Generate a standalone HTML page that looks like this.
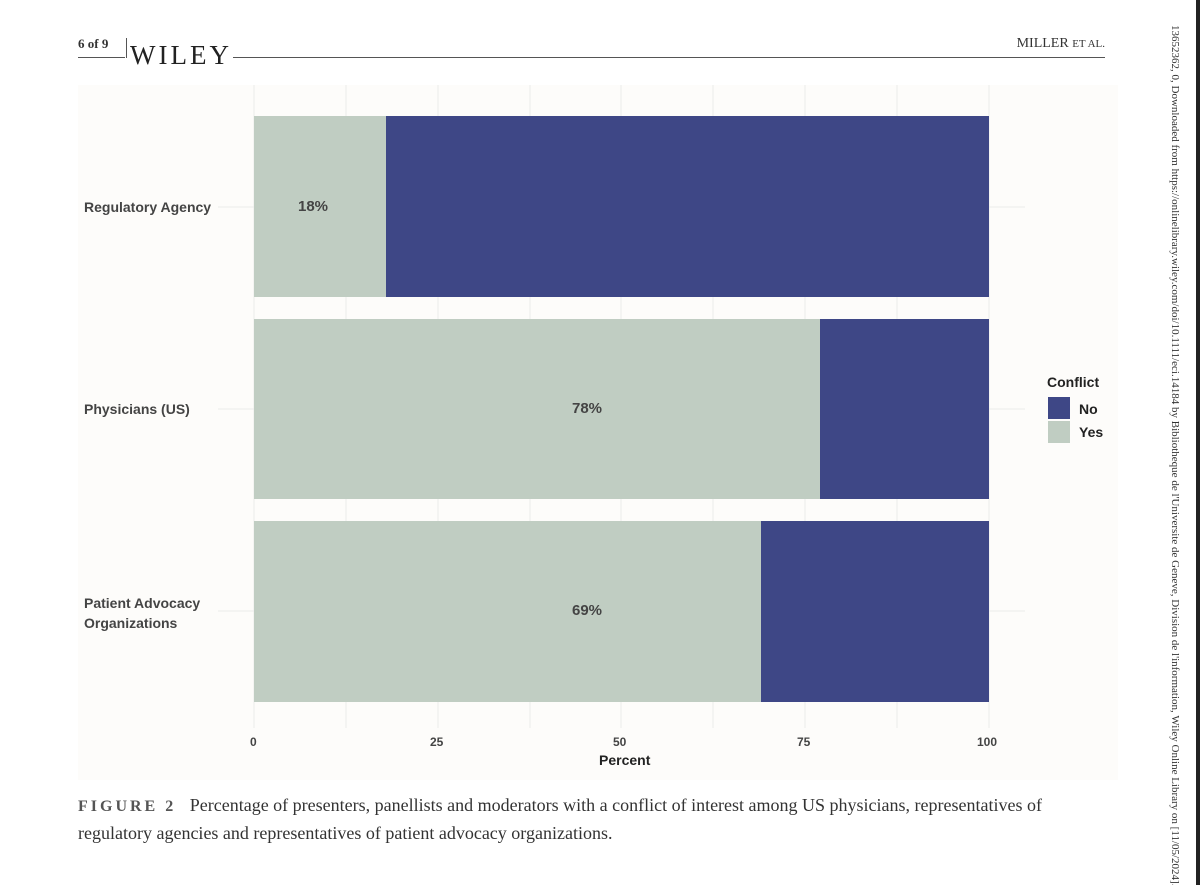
<!DOCTYPE html>
<html><head><style>
body{margin:0;background:#fff;}
#p{position:relative;width:1200px;height:885px;overflow:hidden;background:#fff;font-family:"Liberation Sans",sans-serif;}
.a{position:absolute;}
.s{font-family:"Liberation Serif",serif;color:#333;}
.lab{font-weight:bold;font-size:14px;color:#444;}
</style></head><body><div id="p">
<div class="a s" style="left:78px;top:36px;font-size:13px;font-weight:bold;">6 of 9</div>
<div class="a" style="left:78px;top:57px;width:47px;height:1px;background:#555"></div>
<div class="a" style="left:126px;top:38px;width:1px;height:20px;background:#555"></div>
<div class="a s" style="left:130px;top:40px;font-size:27px;letter-spacing:3px;color:#222">WILEY</div>
<div class="a" style="left:233px;top:57px;width:872px;height:1px;background:#555"></div>
<div class="a s" style="right:95px;top:36px;font-size:14px;">MILLER <span style="font-size:11px">ET AL.</span></div>
<div class="a" style="left:78px;top:85px;width:1040px;height:695px;background:#fdfcfa"></div>
<svg class="a" style="left:0;top:0" width="1200" height="885">
<g stroke="#ebebeb" stroke-width="1">
<line x1="254" y1="85" x2="254" y2="728"/><line x1="346" y1="85" x2="346" y2="728"/><line x1="438" y1="85" x2="438" y2="728"/><line x1="530" y1="85" x2="530" y2="728"/><line x1="621" y1="85" x2="621" y2="728"/><line x1="713" y1="85" x2="713" y2="728"/><line x1="805" y1="85" x2="805" y2="728"/><line x1="897" y1="85" x2="897" y2="728"/><line x1="989" y1="85" x2="989" y2="728"/>
<line x1="218" y1="207" x2="1025" y2="207"/><line x1="218" y1="409" x2="1025" y2="409"/><line x1="218" y1="611" x2="1025" y2="611"/>
</g>
<rect x="254" y="116" width="132" height="181" fill="#c0cdc2"/><rect x="386" y="116" width="603" height="181" fill="#3e4786"/>
<rect x="254" y="319" width="566" height="180" fill="#c0cdc2"/><rect x="820" y="319" width="169" height="180" fill="#3e4786"/>
<rect x="254" y="521" width="507" height="181" fill="#c0cdc2"/><rect x="761" y="521" width="228" height="181" fill="#3e4786"/>
<rect x="1048" y="397" width="22" height="22" fill="#3e4786"/><rect x="1048" y="421" width="22" height="22" fill="#c0cdc2"/>
</svg>
<div class="a lab" style="left:84px;top:199px">Regulatory Agency</div>
<div class="a lab" style="left:84px;top:401px">Physicians (US)</div>
<div class="a lab" style="left:84px;top:593px;line-height:20px">Patient Advocacy<br>Organizations</div>
<div class="a lab" style="left:298px;top:198px;font-size:15px">18%</div>
<div class="a lab" style="left:572px;top:400px;font-size:15px">78%</div>
<div class="a lab" style="left:572px;top:602px;font-size:15px">69%</div>
<div class="a lab" style="left:250px;top:735px;font-size:12px">0</div>
<div class="a lab" style="left:430px;top:735px;font-size:12px">25</div>
<div class="a lab" style="left:613px;top:735px;font-size:12px">50</div>
<div class="a lab" style="left:797px;top:735px;font-size:12px">75</div>
<div class="a lab" style="left:977px;top:735px;font-size:12px">100</div>
<div class="a lab" style="left:599px;top:752px;color:#222">Percent</div>
<div class="a lab" style="left:1047px;top:374px;color:#222">Conflict</div>
<div class="a lab" style="left:1079px;top:401px;color:#222">No</div>
<div class="a lab" style="left:1079px;top:424px;color:#222">Yes</div>
<div class="a s" style="left:78px;top:792px;font-size:18px;line-height:26px;white-space:nowrap"><span style="font-size:16px;letter-spacing:3px;font-weight:bold;color:#555">FIGURE 2</span>&nbsp;&nbsp; Percentage of presenters, panellists and moderators with a conflict of interest among US physicians, representatives of<br>regulatory agencies and representatives of patient advocacy organizations.</div>
<div class="a s" style="left:1163px;top:25px;width:880px;transform-origin:0 0;transform:translate(18px,0) rotate(90deg);font-size:11px;white-space:nowrap;color:#333">13652362, 0, Downloaded from https://onlinelibrary.wiley.com/doi/10.1111/eci.14184 by Bibliotheque de l'Universite de Geneve, Division de l'information, Wiley Online Library on [11/05/2024]. See the Terms and Conditions</div>
<div class="a" style="left:1196px;top:0;width:4px;height:885px;background:#222"></div>
</div></body></html>
